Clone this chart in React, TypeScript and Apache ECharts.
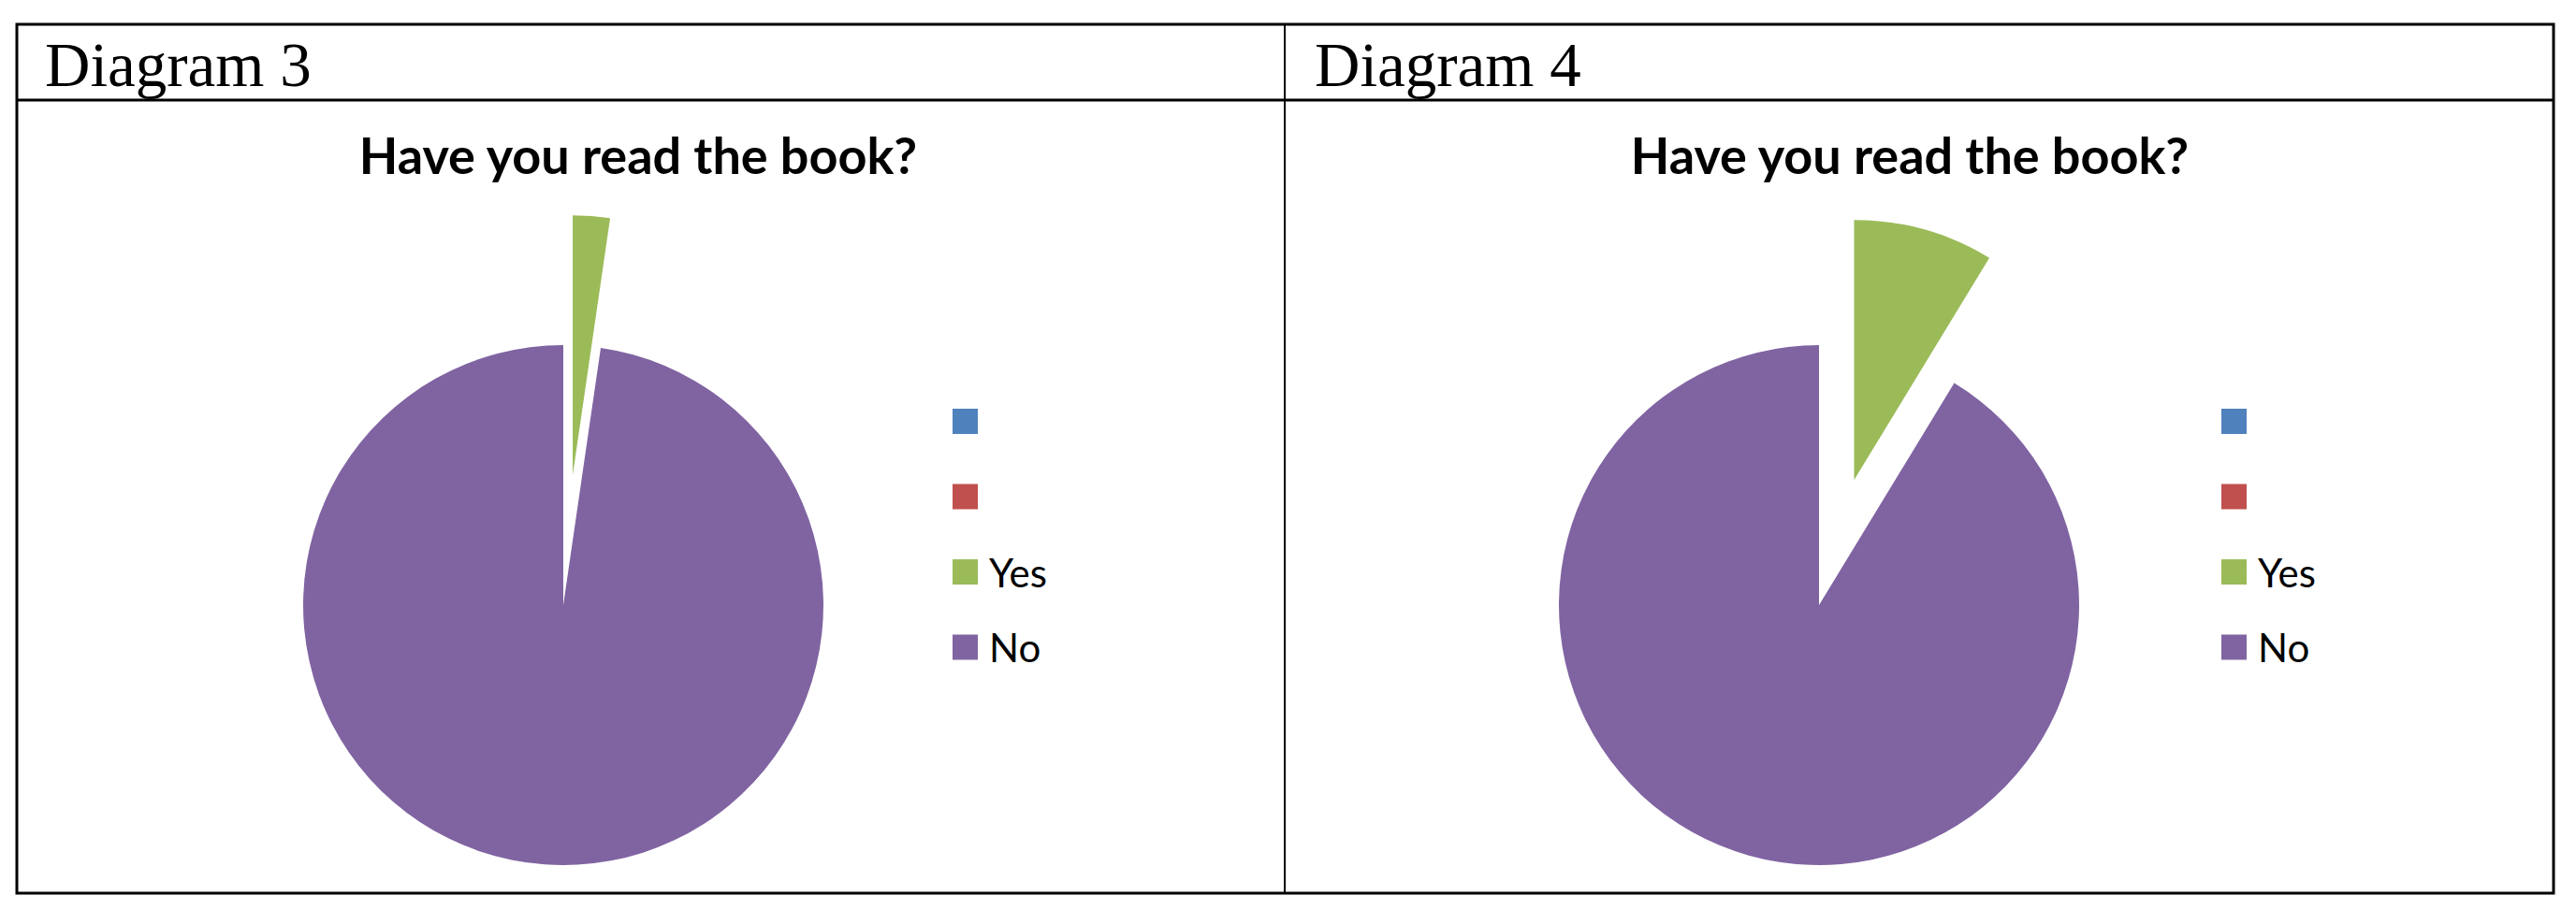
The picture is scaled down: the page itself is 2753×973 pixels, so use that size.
import React, { useEffect, useRef } from "react";
import * as echarts from "echarts";

const categories = [" ", "  ", "Yes", "No"];
const sliceColors = ["#4F81BD", "#C0504D", "#9BBB59", "#8064A2"];
const diagram3Values = [0, 0, 2.3, 97.7];
const diagram4Values = [0, 0, 8.7, 91.3];
const panelLabels = ["Diagram 3", "Diagram 4"];
const chartTitle = "Have you read the book?";
const explodedCategory = "Yes";

const W = 2753;
const H = 973;

function buildData(values: number[]) {
  return categories.map((name, i) => ({
    name,
    value: values[i],
    selected: name === explodedCategory,
    itemStyle: { color: sliceColors[i] },
    select: { itemStyle: { color: sliceColors[i], borderWidth: 0 } },
  }));
}

export default function App() {
  const ref = useRef<HTMLDivElement>(null);
  useEffect(() => {
    if (!ref.current) return;
    const chart = echarts.init(ref.current, undefined, { renderer: "svg" });
    const pies = [
      { values: diagram3Values, cx: 602, legendX: 1018, titleX: 682, labelX: 48 },
      { values: diagram4Values, cx: 1944, legendX: 2374, titleX: 2041, labelX: 1405 },
    ];
    const option: any = {
      animation: false,
      backgroundColor: "#ffffff",
      legend: pies.map((p) => ({
        orient: "vertical",
        left: p.legendX,
        top: 429.5,
        padding: 0,
        itemWidth: 27,
        itemHeight: 27,
        itemGap: 38.5,
        selectedMode: false,
        icon: "rect",
        data: categories,
        textStyle: {
          fontFamily: "Lato",
          fontSize: 42,
          lineHeight: 42,
          color: "#000000",
          padding: [0, 0, 0, 7],
        },
      })),
      series: pies.map((p) => ({
        type: "pie",
        center: [p.cx, 647],
        radius: 278,
        startAngle: 90,
        clockwise: true,
        selectedMode: "single",
        selectedOffset: 139,
        label: { show: false },
        labelLine: { show: false },
        emphasis: { disabled: true },
        itemStyle: { borderWidth: 0 },
        data: buildData(p.values),
      })),
      graphic: [
        {
          type: "rect",
          shape: { x: 18, y: 26, width: 2711, height: 929 },
          style: { fill: "none", stroke: "#000000", lineWidth: 3 },
          silent: true,
        },
        {
          type: "line",
          shape: { x1: 18, y1: 107, x2: 2729, y2: 107 },
          style: { stroke: "#000000", lineWidth: 3 },
          silent: true,
        },
        {
          type: "line",
          shape: { x1: 1373, y1: 26, x2: 1373, y2: 955 },
          style: { stroke: "#000000", lineWidth: 2 },
          silent: true,
        },
        ...pies.map((p, i) => ({
          type: "text",
          silent: true,
          style: {
            text: panelLabels[i],
            x: p.labelX,
            y: 69,
            fontFamily: "Liberation Serif",
            fontSize: 67,
            fill: "#000000",
            align: "left",
            verticalAlign: "middle",
          },
        })),
        ...pies.map((p) => ({
          type: "text",
          silent: true,
          style: {
            text: chartTitle,
            x: p.titleX,
            y: 165,
            fontFamily: "Lato",
            fontWeight: "bold",
            fontSize: 54,
            fill: "#000000",
            align: "center",
            verticalAlign: "middle",
          },
        })),
      ],
    };
    chart.setOption(option);
    return () => chart.dispose();
  }, []);
  return (
    <div
      ref={ref}
      style={{ position: "absolute", left: 0, top: 0, width: W, height: H, background: "#fff" }}
    />
  );
}
